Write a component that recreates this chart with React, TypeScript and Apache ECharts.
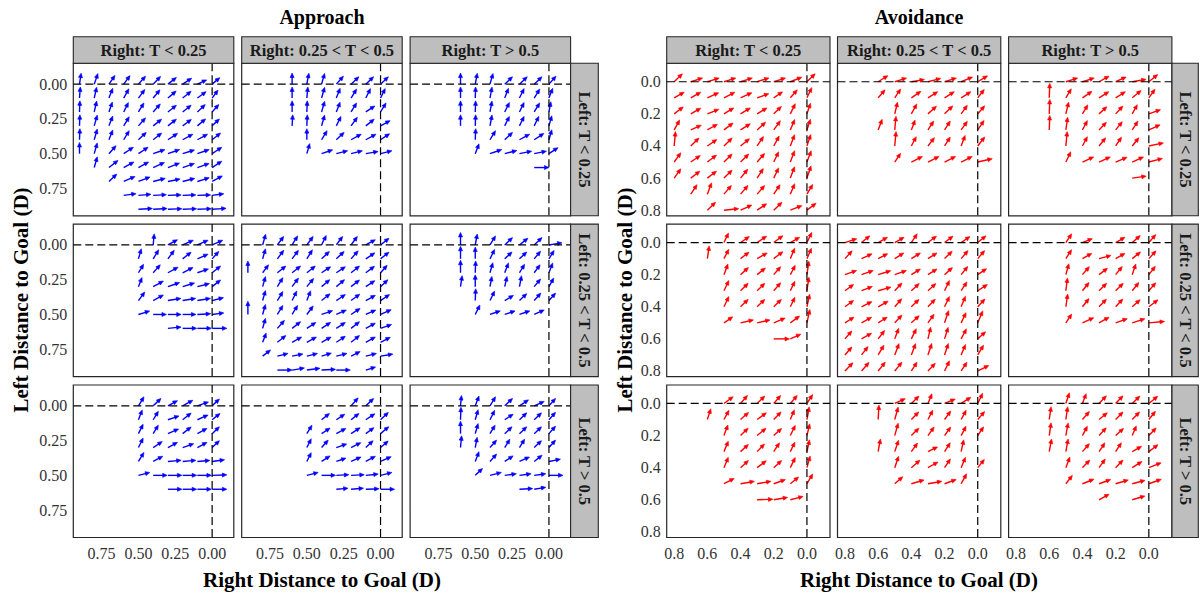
import React, { useEffect, useRef } from "react";
import * as echarts from "echarts";

// Each arrow: [rightDistance, leftDistance, angleDeg (0 = toward right goal, 90 = toward left goal), length]
const A11 = [
  [0.9,0,82,.08],[0.8,0,72,.08],[0.7,0,57,.075],[0.6,0,55,.075],[0.5,0,50,.075],[0.4,0,48,.075],[0.3,0,40,.075],[0.2,0,35,.075],[0.1,0,26,.07],[0,0,42,.07],
  [0.9,.1,86,.08],[0.8,.1,78,.08],[0.7,.1,70,.075],[0.6,.1,62,.075],[0.5,.1,55,.075],[0.4,.1,52,.075],[0.3,.1,42,.075],[0.2,.1,40,.075],[0.1,.1,38,.075],[0,.1,55,.07],
  [0.9,.2,88,.08],[0.8,.2,78,.08],[0.7,.2,72,.075],[0.6,.2,65,.075],[0.5,.2,60,.075],[0.4,.2,50,.075],[0.3,.2,40,.075],[0.2,.2,40,.075],[0.1,.2,45,.075],[0,.2,50,.07],
  [0.9,.3,88,.08],[0.8,.3,75,.08],[0.7,.3,70,.075],[0.6,.3,60,.075],[0.5,.3,50,.075],[0.4,.3,40,.075],[0.3,.3,40,.075],[0.2,.3,38,.075],[0.1,.3,42,.075],[0,.3,45,.07],
  [0.9,.4,88,.08],[0.8,.4,75,.08],[0.7,.4,70,.075],[0.6,.4,60,.075],[0.5,.4,45,.075],[0.4,.4,40,.075],[0.3,.4,35,.08],[0.2,.4,30,.08],[0.1,.4,30,.08],[0,.4,40,.075],
  [0.9,.5,90,.08],[0.8,.5,75,.08],[0.7,.5,50,.075],[0.6,.5,35,.08],[0.5,.5,35,.08],[0.4,.5,20,.085],[0.3,.5,20,.085],[0.2,.5,18,.085],[0.1,.5,20,.085],[0,.5,35,.08],
  [0.8,.6,75,.08],[0.7,.6,40,.08],[0.6,.6,30,.08],[0.5,.6,30,.08],[0.4,.6,25,.085],[0.3,.6,22,.085],[0.2,.6,20,.085],[0.1,.6,20,.085],[0,.6,35,.08],
  [0.7,.7,45,.075],[0.6,.7,25,.085],[0.5,.7,22,.085],[0.4,.7,15,.085],[0.3,.7,12,.085],[0.2,.7,15,.085],[0.1,.7,18,.085],[0,.7,30,.08],
  [0.6,.8,8,.085],[0.5,.8,5,.085],[0.4,.8,3,.09],[0.3,.8,2,.09],[0.2,.8,2,.09],[0.1,.8,2,.09],[0,.8,8,.08],
  [0.5,.9,3,.095],[0.4,.9,3,.095],[0.3,.9,2,.095],[0.2,.9,2,.095],[0.1,.9,2,.095],[0,.9,4,.095],
];
const A12 = [
  [0.6,0,90,.08],[0.6,.1,90,.08],[0.6,.2,90,.08],[0.6,.3,87,.08],
  [0.5,0,80,.08],[0.5,.1,85,.08],[0.5,.2,88,.08],[0.5,.3,88,.08],[0.5,.4,90,.08],[0.5,.5,75,.075],
  [0.4,0,75,.08],[0.4,.1,75,.08],[0.4,.2,75,.08],[0.4,.3,75,.08],[0.4,.4,60,.075],[0.4,.5,20,.08],
  [0.3,0,50,.075],[0.3,.1,70,.075],[0.3,.2,70,.075],[0.3,.3,65,.075],[0.3,.4,45,.075],[0.3,.5,15,.08],
  [0.2,0,45,.075],[0.2,.1,60,.075],[0.2,.2,60,.075],[0.2,.3,55,.075],[0.2,.4,30,.08],[0.2,.5,15,.08],
  [0.1,0,45,.075],[0.1,.1,65,.075],[0.1,.2,35,.075],[0.1,.3,40,.075],[0.1,.4,30,.08],[0.1,.5,10,.085],
  [0,0,45,.075],[0,.1,65,.075],[0,.2,60,.075],[0,.3,30,.075],[0,.4,35,.075],[0,.5,15,.08],
];
const A13 = [
  [0.6,0,90,.08],[0.6,.1,90,.08],[0.6,.2,90,.08],[0.6,.3,90,.08],
  [0.5,0,80,.08],[0.5,.1,88,.08],[0.5,.2,88,.08],[0.5,.3,88,.08],[0.5,.4,88,.08],[0.5,.5,70,.075],
  [0.4,0,75,.08],[0.4,.1,80,.08],[0.4,.2,80,.08],[0.4,.3,80,.08],[0.4,.4,60,.075],[0.4,.5,20,.085],
  [0.3,0,45,.075],[0.3,.1,70,.075],[0.3,.2,65,.075],[0.3,.3,65,.075],[0.3,.4,45,.075],[0.3,.5,15,.085],
  [0.2,0,45,.075],[0.2,.1,65,.075],[0.2,.2,65,.075],[0.2,.3,65,.075],[0.2,.4,30,.08],[0.2,.5,12,.085],
  [0.1,0,45,.075],[0.1,.1,60,.075],[0.1,.2,60,.075],[0.1,.3,65,.075],[0.1,.4,35,.08],[0.1,.5,12,.085],[0.1,.6,0,.1],
  [0,0,50,.075],[0,.1,70,.075],[0,.2,80,.075],[0,.3,75,.075],[0,.4,75,.075],[0,.5,35,.075],
];
const A21 = [
  [0.4,0,85,.08],[0.3,0,30,.075],[0.2,0,25,.08],[0.1,0,25,.08],[0,0,25,.08],
  [0.5,.1,75,.075],[0.4,.1,60,.075],[0.3,.1,55,.075],[0.2,.1,40,.075],[0.1,.1,25,.08],[0,.1,50,.07],
  [0.5,.2,60,.07],[0.4,.2,50,.075],[0.3,.2,30,.08],[0.2,.2,28,.08],[0.1,.2,20,.08],[0,.2,40,.075],
  [0.5,.3,70,.07],[0.4,.3,30,.08],[0.3,.3,20,.085],[0.2,.3,18,.085],[0.1,.3,15,.085],[0,.3,40,.075],
  [0.5,.4,55,.075],[0.4,.4,30,.08],[0.3,.4,10,.09],[0.2,.4,10,.09],[0.1,.4,10,.09],[0,.4,15,.08],
  [0.5,.5,18,.08],[0.4,.5,0,.09],[0.3,.5,0,.09],[0.2,.5,0,.09],[0.1,.5,3,.09],[0,.5,8,.08],
  [0.3,.6,6,.09],[0.2,.6,0,.095],[0.1,.6,0,.095],[0,.6,0,.1],
];
const A22 = [
  [0.9,.2,90,.085],[0.9,.5,90,.095],
  [0.8,0,75,.08],[0.7,0,55,.075],[0.6,0,60,.075],[0.5,0,55,.075],[0.4,0,65,.075],[0.3,0,55,.075],[0.2,0,55,.075],[0.1,0,30,.075],[0,0,40,.075],
  [0.8,.1,75,.075],[0.7,.1,55,.075],[0.6,.1,55,.075],[0.5,.1,60,.075],[0.4,.1,45,.075],[0.3,.1,45,.075],[0.2,.1,50,.075],[0.1,.1,35,.075],[0,.1,40,.075],
  [0.8,.2,55,.07],[0.7,.2,40,.075],[0.6,.2,40,.075],[0.5,.2,40,.075],[0.4,.2,35,.075],[0.3,.2,35,.075],[0.2,.2,40,.075],[0.1,.2,38,.075],[0,.2,50,.07],
  [0.8,.3,75,.075],[0.7,.3,60,.075],[0.6,.3,55,.075],[0.5,.3,52,.075],[0.4,.3,42,.075],[0.3,.3,42,.075],[0.2,.3,40,.075],[0.1,.3,35,.075],[0,.3,45,.07],
  [0.8,.4,75,.075],[0.7,.4,60,.075],[0.6,.4,65,.075],[0.5,.4,70,.075],[0.4,.4,40,.075],[0.3,.4,35,.075],[0.2,.4,38,.075],[0.1,.4,30,.075],[0,.4,35,.075],
  [0.8,.5,75,.075],[0.7,.5,60,.075],[0.6,.5,60,.075],[0.5,.5,55,.075],[0.4,.5,20,.08],[0.3,.5,25,.075],[0.2,.5,35,.075],[0.1,.5,25,.075],[0,.5,25,.08],
  [0.8,.6,75,.075],[0.7,.6,50,.075],[0.6,.6,40,.075],[0.5,.6,35,.075],[0.4,.6,35,.075],[0.3,.6,35,.075],[0.2,.6,40,.075],[0.1,.6,30,.075],[0,.6,20,.08],
  [0.8,.7,70,.07],[0.7,.7,40,.075],[0.6,.7,30,.075],[0.5,.7,30,.075],[0.4,.7,30,.075],[0.3,.7,35,.075],[0.2,.7,40,.075],[0.1,.7,30,.075],[0,.7,28,.075],
  [0.8,.8,40,.07],[0.7,.8,15,.075],[0.6,.8,12,.075],[0.5,.8,15,.075],[0.4,.8,18,.07],[0.3,.8,15,.075],[0.2,.8,28,.07],[0.1,.8,15,.075],[0,.8,10,.085],
  [0.7,.9,0,.1],[0.6,.9,10,.085],[0.5,.9,8,.09],[0.4,.9,3,.095],[0.3,.9,0,.095],[0.1,.9,18,.07],
];
const A23 = [
  [0.6,0,90,.09],[0.6,.1,90,.09],[0.6,.2,90,.09],[0.6,.3,82,.08],
  [0.5,0,80,.08],[0.5,.1,90,.085],[0.5,.2,88,.085],[0.5,.3,90,.085],[0.5,.4,88,.085],[0.5,.5,65,.075],
  [0.4,0,60,.075],[0.4,.1,65,.075],[0.4,.2,75,.075],[0.4,.3,80,.075],[0.4,.4,65,.075],[0.4,.5,20,.075],
  [0.3,0,45,.075],[0.3,.1,45,.07],[0.3,.2,70,.075],[0.3,.3,78,.075],[0.3,.4,32,.07],[0.3,.5,20,.075],
  [0.2,0,40,.075],[0.2,.1,45,.07],[0.2,.2,60,.07],[0.2,.3,80,.08],[0.2,.4,45,.07],[0.2,.5,20,.075],
  [0.1,0,45,.075],[0.1,.1,52,.07],[0.1,.2,55,.07],[0.1,.3,52,.07],[0.1,.4,50,.07],[0.1,.5,25,.075],
  [0,0,10,.09],[0,.1,60,.07],[0,.2,70,.075],[0,.3,62,.07],[0,.4,50,.07],
];
const A31 = [
  [0.5,0,60,.075],[0.4,0,45,.075],[0.3,0,30,.075],[0.2,0,30,.08],[0.1,0,20,.08],[0,0,45,.07],
  [0.5,.1,70,.075],[0.4,.1,60,.07],[0.3,.1,20,.08],[0.2,.1,40,.075],[0.1,.1,25,.08],[0,.1,40,.07],
  [0.5,.2,65,.075],[0.4,.2,60,.07],[0.3,.2,25,.08],[0.2,.2,40,.075],[0.1,.2,30,.075],[0,.2,45,.07],
  [0.5,.3,65,.075],[0.4,.3,35,.075],[0.3,.3,30,.075],[0.2,.3,20,.08],[0.1,.3,30,.075],[0,.3,45,.07],
  [0.5,.4,60,.075],[0.4,.4,30,.075],[0.3,.4,5,.09],[0.2,.4,5,.09],[0.1,.4,5,.085],[0,.4,8,.085],
  [0.5,.5,15,.08],[0.4,.5,0,.095],[0.3,.5,0,.095],[0.2,.5,0,.095],[0.1,.5,0,.095],[0,.5,2,.1],
  [0.3,.6,0,.095],[0.2,.6,0,.095],[0.1,.6,0,.095],[0,.6,0,.1],
];
const A32 = [
  [0.2,0,50,.075],[0.1,0,45,.075],
  [0.4,.1,40,.07],[0.3,.1,35,.07],[0.2,.1,40,.07],[0.1,.1,35,.075],[0,.1,45,.075],
  [0.5,.2,60,.07],[0.4,.2,35,.07],[0.3,.2,30,.075],[0.2,.2,35,.075],[0.1,.2,38,.07],[0,.2,42,.075],
  [0.5,.3,65,.07],[0.4,.3,50,.07],[0.3,.3,20,.075],[0.2,.3,28,.075],[0.1,.3,45,.07],[0,.3,42,.07],
  [0.5,.4,65,.07],[0.4,.4,35,.07],[0.3,.4,20,.07],[0.2,.4,25,.075],[0.1,.4,30,.075],[0,.4,25,.08],
  [0.5,.5,15,.08],[0.4,.5,0,.095],[0.3,.5,3,.085],[0.2,.5,3,.09],[0.1,.5,6,.085],[0,.5,15,.08],
  [0.3,.6,5,.08],[0.2,.6,5,.085],[0.1,.6,2,.09],[0,.6,0,.095],
];
const A33 = [
  [0.6,0,85,.075],[0.6,.1,88,.09],[0.6,.2,90,.09],[0.6,.3,85,.085],
  [0.5,0,70,.075],[0.4,0,60,.075],[0.3,0,45,.075],[0.2,0,35,.075],[0.1,0,25,.075],[0,0,50,.07],
  [0.5,.1,75,.075],[0.4,.1,65,.075],[0.3,.1,35,.07],[0.2,.1,45,.07],[0.1,.1,45,.07],[0,.1,50,.07],
  [0.5,.2,75,.075],[0.4,.2,60,.07],[0.3,.2,45,.07],[0.2,.2,45,.07],[0.1,.2,45,.07],[0,.2,50,.07],
  [0.5,.3,80,.075],[0.4,.3,50,.07],[0.3,.3,60,.07],[0.2,.3,60,.07],[0.1,.3,45,.07],[0,.3,50,.07],
  [0.5,.4,70,.075],[0.4,.4,50,.07],[0.3,.4,35,.07],[0.2,.4,25,.075],[0.1,.4,40,.07],[0,.4,12,.08],
  [0.5,.5,45,.07],[0.4,.5,15,.08],[0.3,.5,8,.08],[0.2,.5,8,.08],[0.1,.5,8,.08],[0,.5,0,.095],
  [0.2,.6,3,.09],[0.1,.6,10,.08],
];

const B11 = [
  [0.8,0,45,.07],[0.7,0,18,.075],[0.6,0,18,.075],[0.5,0,18,.075],[0.4,0,18,.075],[0.3,0,18,.075],[0.2,0,18,.075],[0.1,0,22,.075],[0,0,45,.07],
  [0.8,.1,30,.07],[0.7,.1,30,.07],[0.6,.1,25,.075],[0.5,.1,28,.075],[0.4,.1,25,.075],[0.3,.1,20,.075],[0.2,.1,35,.065],[0.1,.1,50,.065],[0,.1,65,.07],
  [0.8,.2,38,.07],[0.7,.2,30,.07],[0.6,.2,22,.075],[0.5,.2,32,.07],[0.4,.2,32,.07],[0.3,.2,32,.07],[0.2,.2,45,.065],[0.1,.2,65,.07],[0,.2,72,.07],
  [0.8,.3,62,.07],[0.7,.3,25,.07],[0.6,.3,30,.07],[0.5,.3,38,.07],[0.4,.3,33,.07],[0.3,.3,43,.07],[0.2,.3,55,.07],[0.1,.3,68,.07],[0,.3,72,.07],
  [0.8,.4,85,.09],[0.7,.4,45,.07],[0.6,.4,35,.07],[0.5,.4,45,.07],[0.4,.4,40,.07],[0.3,.4,57,.07],[0.2,.4,62,.07],[0.1,.4,70,.075],[0,.4,72,.075],
  [0.8,.5,55,.07],[0.7,.5,35,.07],[0.6,.5,38,.07],[0.5,.5,45,.07],[0.4,.5,45,.07],[0.3,.5,50,.07],[0.2,.5,65,.07],[0.1,.5,70,.075],[0,.5,70,.075],
  [0.8,.6,55,.07],[0.7,.6,38,.07],[0.6,.6,38,.07],[0.5,.6,45,.07],[0.4,.6,52,.07],[0.3,.6,58,.07],[0.2,.6,65,.07],[0.1,.6,70,.075],[0,.6,72,.08],
  [0.7,.7,57,.07],[0.6,.7,70,.075],[0.5,.7,50,.07],[0.4,.7,50,.07],[0.3,.7,50,.07],[0.2,.7,57,.07],[0.1,.7,68,.07],[0,.7,60,.07],
  [0.6,.8,45,.07],[0.5,.8,6,.09],[0.4,.8,25,.075],[0.3,.8,35,.07],[0.2,.8,45,.07],[0.1,.8,22,.075],[0,.8,38,.07],
];
const B12 = [
  [0.6,0,33,.07],[0.5,0,18,.075],[0.4,0,10,.08],[0.3,0,15,.08],[0.2,0,18,.075],[0.1,0,23,.075],[0,0,32,.07],
  [0.6,.1,50,.065],[0.5,.1,57,.065],[0.4,.1,35,.07],[0.3,.1,33,.07],[0.2,.1,33,.07],[0.1,.1,33,.07],[0,.1,53,.065],
  [0.5,.2,77,.075],[0.4,.2,62,.07],[0.3,.2,43,.07],[0.2,.2,45,.07],[0.1,.2,55,.065],[0,.2,50,.065],
  [0.6,.3,70,.07],[0.5,.3,85,.085],[0.4,.3,70,.065],[0.3,.3,58,.065],[0.2,.3,58,.065],[0.1,.3,55,.065],[0,.3,57,.07],
  [0.5,.4,85,.09],[0.4,.4,63,.065],[0.3,.4,53,.065],[0.2,.4,58,.065],[0.1,.4,70,.07],[0,.4,53,.07],
  [0.5,.5,57,.065],[0.4,.5,27,.075],[0.3,.5,27,.075],[0.2,.5,27,.075],[0.1,.5,27,.075],[0,.5,13,.09],
];
const B13 = [
  [0.6,.1,88,.09],[0.6,.2,88,.09],[0.6,.3,88,.09],
  [0.5,0,18,.075],[0.4,0,18,.075],[0.3,0,30,.07],[0.2,0,25,.07],[0.1,0,10,.085],[0,0,40,.07],
  [0.5,.1,60,.065],[0.4,.1,35,.07],[0.3,.1,33,.07],[0.2,.1,33,.07],[0.1,.1,40,.07],[0,.1,55,.065],
  [0.5,.2,77,.075],[0.4,.2,60,.065],[0.3,.2,43,.065],[0.2,.2,48,.065],[0.1,.2,62,.065],[0,.2,20,.075],
  [0.5,.3,82,.08],[0.4,.3,63,.065],[0.3,.3,47,.065],[0.2,.3,52,.065],[0.1,.3,58,.065],[0,.3,25,.075],
  [0.5,.4,85,.09],[0.4,.4,63,.065],[0.3,.4,52,.065],[0.2,.4,57,.065],[0.1,.4,52,.065],[0,.4,12,.09],
  [0.5,.5,65,.07],[0.4,.5,25,.075],[0.3,.5,25,.075],[0.2,.5,23,.075],[0.1,.5,25,.075],[0,.5,15,.085],
  [0.1,.6,8,.085],
];
const B21 = [
  [0.5,0,65,.065],[0.4,0,35,.065],[0.3,0,35,.07],[0.2,0,38,.07],[0.1,0,30,.065],[0,0,65,.07],
  [0.6,.1,82,.08],[0.5,.1,63,.065],[0.4,.1,38,.065],[0.3,.1,30,.07],[0.2,.1,38,.07],[0.1,.1,68,.07],[0,.1,67,.07],
  [0.5,.2,70,.07],[0.4,.2,43,.065],[0.3,.2,40,.065],[0.2,.2,50,.065],[0.1,.2,63,.065],[0,.2,82,.085],
  [0.5,.3,65,.07],[0.4,.3,45,.065],[0.3,.3,45,.065],[0.2,.3,50,.065],[0.1,.3,65,.065],[0,.3,82,.085],
  [0.5,.4,65,.07],[0.4,.4,45,.065],[0.3,.4,45,.065],[0.2,.4,45,.065],[0.1,.4,65,.065],[0,.4,78,.08],
  [0.5,.5,35,.065],[0.4,.5,13,.08],[0.3,.5,13,.08],[0.2,.5,23,.075],[0.1,.5,37,.07],[0,.5,78,.085],
  [0.2,.6,0,.095],[0.1,.6,25,.07],
];
const B22 = [
  [0.8,0,18,.075],[0.7,0,40,.065],[0.6,0,30,.065],[0.5,0,30,.065],[0.4,0,57,.065],[0.3,0,38,.065],[0.2,0,38,.065],[0.1,0,35,.065],[0,0,40,.065],
  [0.8,.1,48,.065],[0.7,.1,25,.07],[0.6,.1,28,.065],[0.5,.1,33,.065],[0.4,.1,33,.065],[0.3,.1,33,.065],[0.2,.1,45,.065],[0.1,.1,50,.065],[0,.1,50,.065],
  [0.8,.2,20,.075],[0.7,.2,20,.075],[0.6,.2,18,.08],[0.5,.2,20,.075],[0.4,.2,33,.065],[0.3,.2,33,.065],[0.2,.2,43,.065],[0.1,.2,52,.065],[0,.2,35,.065],
  [0.8,.3,37,.065],[0.7,.3,22,.07],[0.6,.3,16,.08],[0.5,.3,48,.065],[0.4,.3,43,.065],[0.3,.3,43,.065],[0.2,.3,65,.07],[0.1,.3,57,.065],[0,.3,33,.07],
  [0.8,.4,37,.065],[0.7,.4,27,.07],[0.6,.4,30,.07],[0.5,.4,50,.065],[0.4,.4,45,.065],[0.3,.4,47,.065],[0.2,.4,65,.07],[0.1,.4,68,.07],[0,.4,48,.065],
  [0.8,.5,33,.065],[0.7,.5,30,.07],[0.6,.5,33,.065],[0.5,.5,48,.065],[0.4,.5,43,.065],[0.3,.5,55,.065],[0.2,.5,72,.08],[0.1,.5,65,.07],[0,.5,68,.08],
  [0.8,.6,50,.065],[0.7,.6,30,.07],[0.6,.6,53,.065],[0.5,.6,70,.07],[0.4,.6,65,.07],[0.3,.6,77,.075],[0.2,.6,73,.075],[0.1,.6,63,.07],[0,.6,43,.065],
  [0.8,.7,50,.065],[0.7,.7,53,.065],[0.6,.7,60,.07],[0.5,.7,70,.075],[0.4,.7,70,.075],[0.3,.7,72,.075],[0.2,.7,72,.075],[0.1,.7,68,.07],[0,.7,60,.07],
  [0.8,.8,47,.07],[0.7,.8,50,.07],[0.6,.8,52,.07],[0.5,.8,52,.07],[0.4,.8,58,.065],[0.3,.8,47,.065],[0.2,.8,65,.07],[0.1,.8,57,.065],[0,.8,27,.075],
];
const B23 = [
  [0.5,0,57,.065],[0.4,0,22,.065],[0.2,0,30,.065],[0.1,0,42,.065],[0,0,50,.065],
  [0.5,.1,58,.065],[0.4,.1,30,.065],[0.3,.1,15,.075],[0.2,.1,30,.065],[0.1,.1,40,.065],[0,.1,48,.065],
  [0.5,.2,75,.07],[0.4,.2,50,.065],[0.3,.2,38,.065],[0.2,.2,52,.065],[0.1,.2,72,.07],[0,.2,53,.065],
  [0.5,.3,83,.08],[0.4,.3,52,.065],[0.3,.3,45,.065],[0.2,.3,45,.065],[0.1,.3,52,.065],[0,.3,50,.065],
  [0.5,.4,82,.08],[0.4,.4,52,.065],[0.3,.4,47,.065],[0.2,.4,48,.065],[0.1,.4,43,.065],[0,.4,38,.07],
  [0.5,.5,57,.065],[0.4,.5,25,.075],[0.3,.5,30,.07],[0.2,.5,20,.075],[0.1,.5,18,.08],[0,.5,5,.095],
];
const B31 = [
  [0.5,0,37,.07],[0.4,0,50,.065],[0.3,0,45,.065],[0.2,0,50,.065],[0.1,0,50,.065],[0,0,58,.065],
  [0.6,.1,73,.07],[0.5,.1,62,.065],[0.4,.1,42,.065],[0.3,.1,37,.07],[0.2,.1,47,.065],[0.1,.1,68,.065],[0,.1,80,.08],
  [0.5,.2,70,.07],[0.4,.2,45,.065],[0.3,.2,40,.07],[0.2,.2,43,.065],[0.1,.2,65,.07],[0,.2,77,.075],
  [0.5,.3,68,.07],[0.4,.3,43,.065],[0.3,.3,47,.065],[0.2,.3,58,.065],[0.1,.3,65,.065],[0,.3,78,.075],
  [0.5,.4,68,.07],[0.4,.4,43,.065],[0.3,.4,38,.07],[0.2,.4,43,.065],[0.1,.4,65,.07],[0,.4,75,.075],
  [0.5,.5,28,.07],[0.4,.5,10,.085],[0.3,.5,10,.085],[0.2,.5,20,.075],[0.1,.5,40,.065],[0,.5,60,.07],
  [0.3,.6,2,.095],[0.2,.6,10,.085],[0.1,.6,15,.08],
];
const B32 = [
  [0.5,0,25,.07],[0.4,0,45,.065],[0.3,0,68,.065],[0.2,0,23,.07],[0.1,0,33,.07],[0,0,65,.07],
  [0.6,.1,87,.09],[0.5,.1,75,.08],[0.4,.1,47,.065],[0.3,.1,63,.065],[0.2,.1,55,.065],[0.1,.1,62,.065],[0,.1,50,.065],
  [0.5,.2,75,.08],[0.4,.2,45,.065],[0.3,.2,55,.065],[0.2,.2,55,.065],[0.1,.2,63,.065],[0,.2,57,.065],
  [0.6,.3,80,.08],[0.5,.3,72,.075],[0.4,.3,55,.065],[0.3,.3,27,.065],[0.2,.3,58,.065],[0.1,.3,78,.075],
  [0.5,.4,72,.075],[0.4,.4,42,.07],[0.3,.4,30,.07],[0.2,.4,57,.065],[0.1,.4,68,.07],[0,.4,52,.065],
  [0.5,.5,42,.065],[0.4,.5,17,.08],[0.3,.5,10,.085],[0.2,.5,20,.075],[0.1,.5,62,.07],
];
const B33 = [
  [0.5,0,72,.07],[0.4,0,70,.065],[0.3,0,47,.065],[0.2,0,47,.065],[0.1,0,45,.065],[0,0,40,.07],
  [0.6,.1,82,.08],[0.5,.1,82,.08],[0.4,.1,50,.065],[0.3,.1,40,.065],[0.2,.1,47,.065],[0.1,.1,47,.065],[0,.1,52,.065],
  [0.6,.2,82,.08],[0.5,.2,80,.08],[0.4,.2,63,.065],[0.3,.2,48,.065],[0.2,.2,43,.065],[0.1,.2,68,.065],[0,.2,47,.065],
  [0.6,.3,80,.08],[0.5,.3,80,.08],[0.4,.3,50,.065],[0.3,.3,57,.065],[0.2,.3,58,.065],[0.1,.3,30,.065],[0,.3,38,.07],
  [0.5,.4,70,.07],[0.4,.4,47,.065],[0.3,.4,55,.065],[0.2,.4,47,.065],[0.1,.4,33,.07],[0,.4,22,.08],
  [0.5,.5,53,.065],[0.4,.5,22,.075],[0.3,.5,20,.075],[0.2,.5,17,.08],[0.1,.5,15,.08],[0,.5,20,.08],
  [0.3,.6,30,.07],[0.1,.6,17,.08],
];

const TOP_STRIPS = ["Right: T < 0.25", "Right: 0.25 < T < 0.5", "Right: T > 0.5"];
const SIDE_STRIPS = ["Left: T < 0.25", "Left: 0.25 < T < 0.5", "Left: T > 0.5"];
const APPROACH_TICKS = [0, 0.25, 0.5, 0.75];
const AVOID_TICKS = [0, 0.2, 0.4, 0.6, 0.8];

const SERIF = '"Liberation Serif", "DejaVu Serif", serif';

function arrowRenderer(color: string) {
  return (params: any, api: any) => {
    const x = api.value(0), y = api.value(1);
    const a = (api.value(2) * Math.PI) / 180, l = api.value(3);
    const p0 = api.coord([x, y]);
    const p1 = api.coord([x - l * Math.cos(a), y - l * Math.sin(a)]);
    const dx = p1[0] - p0[0], dy = p1[1] - p0[1];
    const L = Math.hypot(dx, dy) || 1;
    const ux = dx / L, uy = dy / L;
    const hl = 4.5, hw = 2;
    const bx = p1[0] - ux * hl, by = p1[1] - uy * hl;
    return {
      type: "group",
      children: [
        { type: "line", shape: { x1: p0[0], y1: p0[1], x2: bx + ux, y2: by + uy }, style: { stroke: color, lineWidth: 1.4 } },
        { type: "polygon", shape: { points: [[p1[0], p1[1]], [bx - uy * hw, by + ux * hw], [bx + uy * hw, by - ux * hw]] }, style: { fill: color, stroke: color, lineWidth: 0.6 } },
      ],
    };
  };
}

function refRenderer(params: any, api: any) {
  const cs = params.coordSys;
  const c = api.coord([0, 0]);
  const st = { stroke: "#000", lineWidth: 1.2, lineDash: [8, 4] };
  return {
    type: "group",
    children: [
      { type: "line", shape: { x1: cs.x, y1: c[1], x2: cs.x + cs.width, y2: c[1] }, style: st },
      { type: "line", shape: { x1: c[0], y1: cs.y, x2: c[0], y2: cs.y + cs.height }, style: st },
    ],
  };
}

function buildOption() {
  const groups = [
    { title: "Approach", panels: [[A11, A12, A13], [A21, A22, A23], [A31, A32, A33]], color: "#0000FF",
      lefts: [73.3, 241.7, 410.1], pw: 160.5, xr: [-0.147, 0.942], yr: [-0.15, 0.947], ticks: APPROACH_TICKS, dec: 2,
      stripX: 570.6, stripW: 27.7, titleX: 322, yTitleX: 21 },
    { title: "Avoidance", panels: [[B11, B12, B13], [B21, B22, B23], [B31, B32, B33]], color: "#FF0000",
      lefts: [666.7, 837.5, 1008.6], pw: 163.3, xr: [-0.139, 0.845], yr: [-0.115, 0.835], ticks: AVOID_TICKS, dec: 1,
      stripX: 1172, stripW: 26.3, titleX: 919, yTitleX: 625 },
  ];
  const tops = [63.3, 224.1, 385];
  const ph = 152.5;
  const grid: any[] = [], xAxis: any[] = [], yAxis: any[] = [], series: any[] = [], graphic: any[] = [];
  let gi = 0;
  groups.forEach((g) => {
    for (let r = 0; r < 3; r++) {
      for (let c = 0; c < 3; c++) {
        grid.push({ left: g.lefts[c], top: tops[r], width: g.pw, height: ph, show: true, borderColor: "#262626", borderWidth: 1.2, backgroundColor: "#fff", containLabel: false });
        xAxis.push({
          gridIndex: gi, type: "value", min: g.xr[0], max: g.xr[1], inverse: true,
          axisLine: { show: false }, axisTick: { show: false }, splitLine: { show: false },
          axisLabel: { show: r === 2, customValues: g.ticks, formatter: (v: number) => v.toFixed(g.dec), fontFamily: SERIF, fontSize: 16, color: "#333", margin: 8 },
        });
        yAxis.push({
          gridIndex: gi, type: "value", min: g.yr[0], max: g.yr[1], inverse: true,
          axisLine: { show: false }, axisTick: { show: false }, splitLine: { show: false },
          axisLabel: { show: c === 0, customValues: g.ticks, formatter: (v: number) => v.toFixed(g.dec), fontFamily: SERIF, fontSize: 16, color: "#333", margin: 6 },
        });
        series.push({ type: "custom", xAxisIndex: gi, yAxisIndex: gi, data: g.panels[r][c], dimensions: ["right", "left", "angle", "len"], encode: { x: 0, y: 1 }, renderItem: arrowRenderer(g.color), z: 2, silent: true });
        series.push({ type: "custom", xAxisIndex: gi, yAxisIndex: gi, data: [[0, 0]], encode: { x: 0, y: 1 }, renderItem: refRenderer, z: 3, silent: true });
        gi++;
      }
    }
    for (let c = 0; c < 3; c++) {
      graphic.push({ type: "rect", shape: { x: g.lefts[c], y: 36.7, width: g.pw, height: 26.6 }, style: { fill: "#BEBEBE", stroke: "#262626", lineWidth: 1.1 }, z: 10 });
      graphic.push({ type: "text", x: g.lefts[c] + g.pw / 2, y: 50.5, style: { text: TOP_STRIPS[c], font: `bold 16.5px ${SERIF}`, fill: "#1a1a1a", textAlign: "center", align: "center", textVerticalAlign: "middle", verticalAlign: "middle" }, z: 11 });
    }
    for (let r = 0; r < 3; r++) {
      graphic.push({ type: "rect", shape: { x: g.stripX, y: tops[r], width: g.stripW, height: ph }, style: { fill: "#BEBEBE", stroke: "#262626", lineWidth: 1.1 }, z: 10 });
      graphic.push({ type: "text", x: g.stripX + g.stripW / 2, y: tops[r] + ph / 2, rotation: -Math.PI / 2, style: { text: SIDE_STRIPS[r], font: `bold 16.5px ${SERIF}`, fill: "#1a1a1a", textAlign: "center", align: "center", textVerticalAlign: "middle", verticalAlign: "middle" }, z: 11 });
    }
    graphic.push({ type: "text", x: g.titleX, y: 16.5, style: { text: g.title, font: `bold 20px ${SERIF}`, fill: "#000", textAlign: "center", align: "center", textVerticalAlign: "middle", verticalAlign: "middle" }, z: 11 });
    graphic.push({ type: "text", x: g.titleX, y: 580, style: { text: "Right Distance to Goal (D)", font: `bold 21px ${SERIF}`, fill: "#000", textAlign: "center", align: "center", textVerticalAlign: "middle", verticalAlign: "middle" }, z: 11 });
    graphic.push({ type: "text", x: g.yTitleX, y: 300, rotation: Math.PI / 2, style: { text: "Left Distance to Goal (D)", font: `bold 21px ${SERIF}`, fill: "#000", textAlign: "center", align: "center", textVerticalAlign: "middle", verticalAlign: "middle" }, z: 11 });
  });
  return { animation: false, backgroundColor: "#fff", grid, xAxis, yAxis, series, graphic };
}

export default function App() {
  const ref = useRef<HTMLDivElement>(null);
  useEffect(() => {
    if (!ref.current) return;
    const chart = echarts.init(ref.current, null, { renderer: "svg" });
    chart.setOption(buildOption() as any);
    return () => chart.dispose();
  }, []);
  return <div ref={ref} style={{ position: "fixed", left: 0, top: 0, width: 1200, height: 595, background: "#fff" }} />;
}
